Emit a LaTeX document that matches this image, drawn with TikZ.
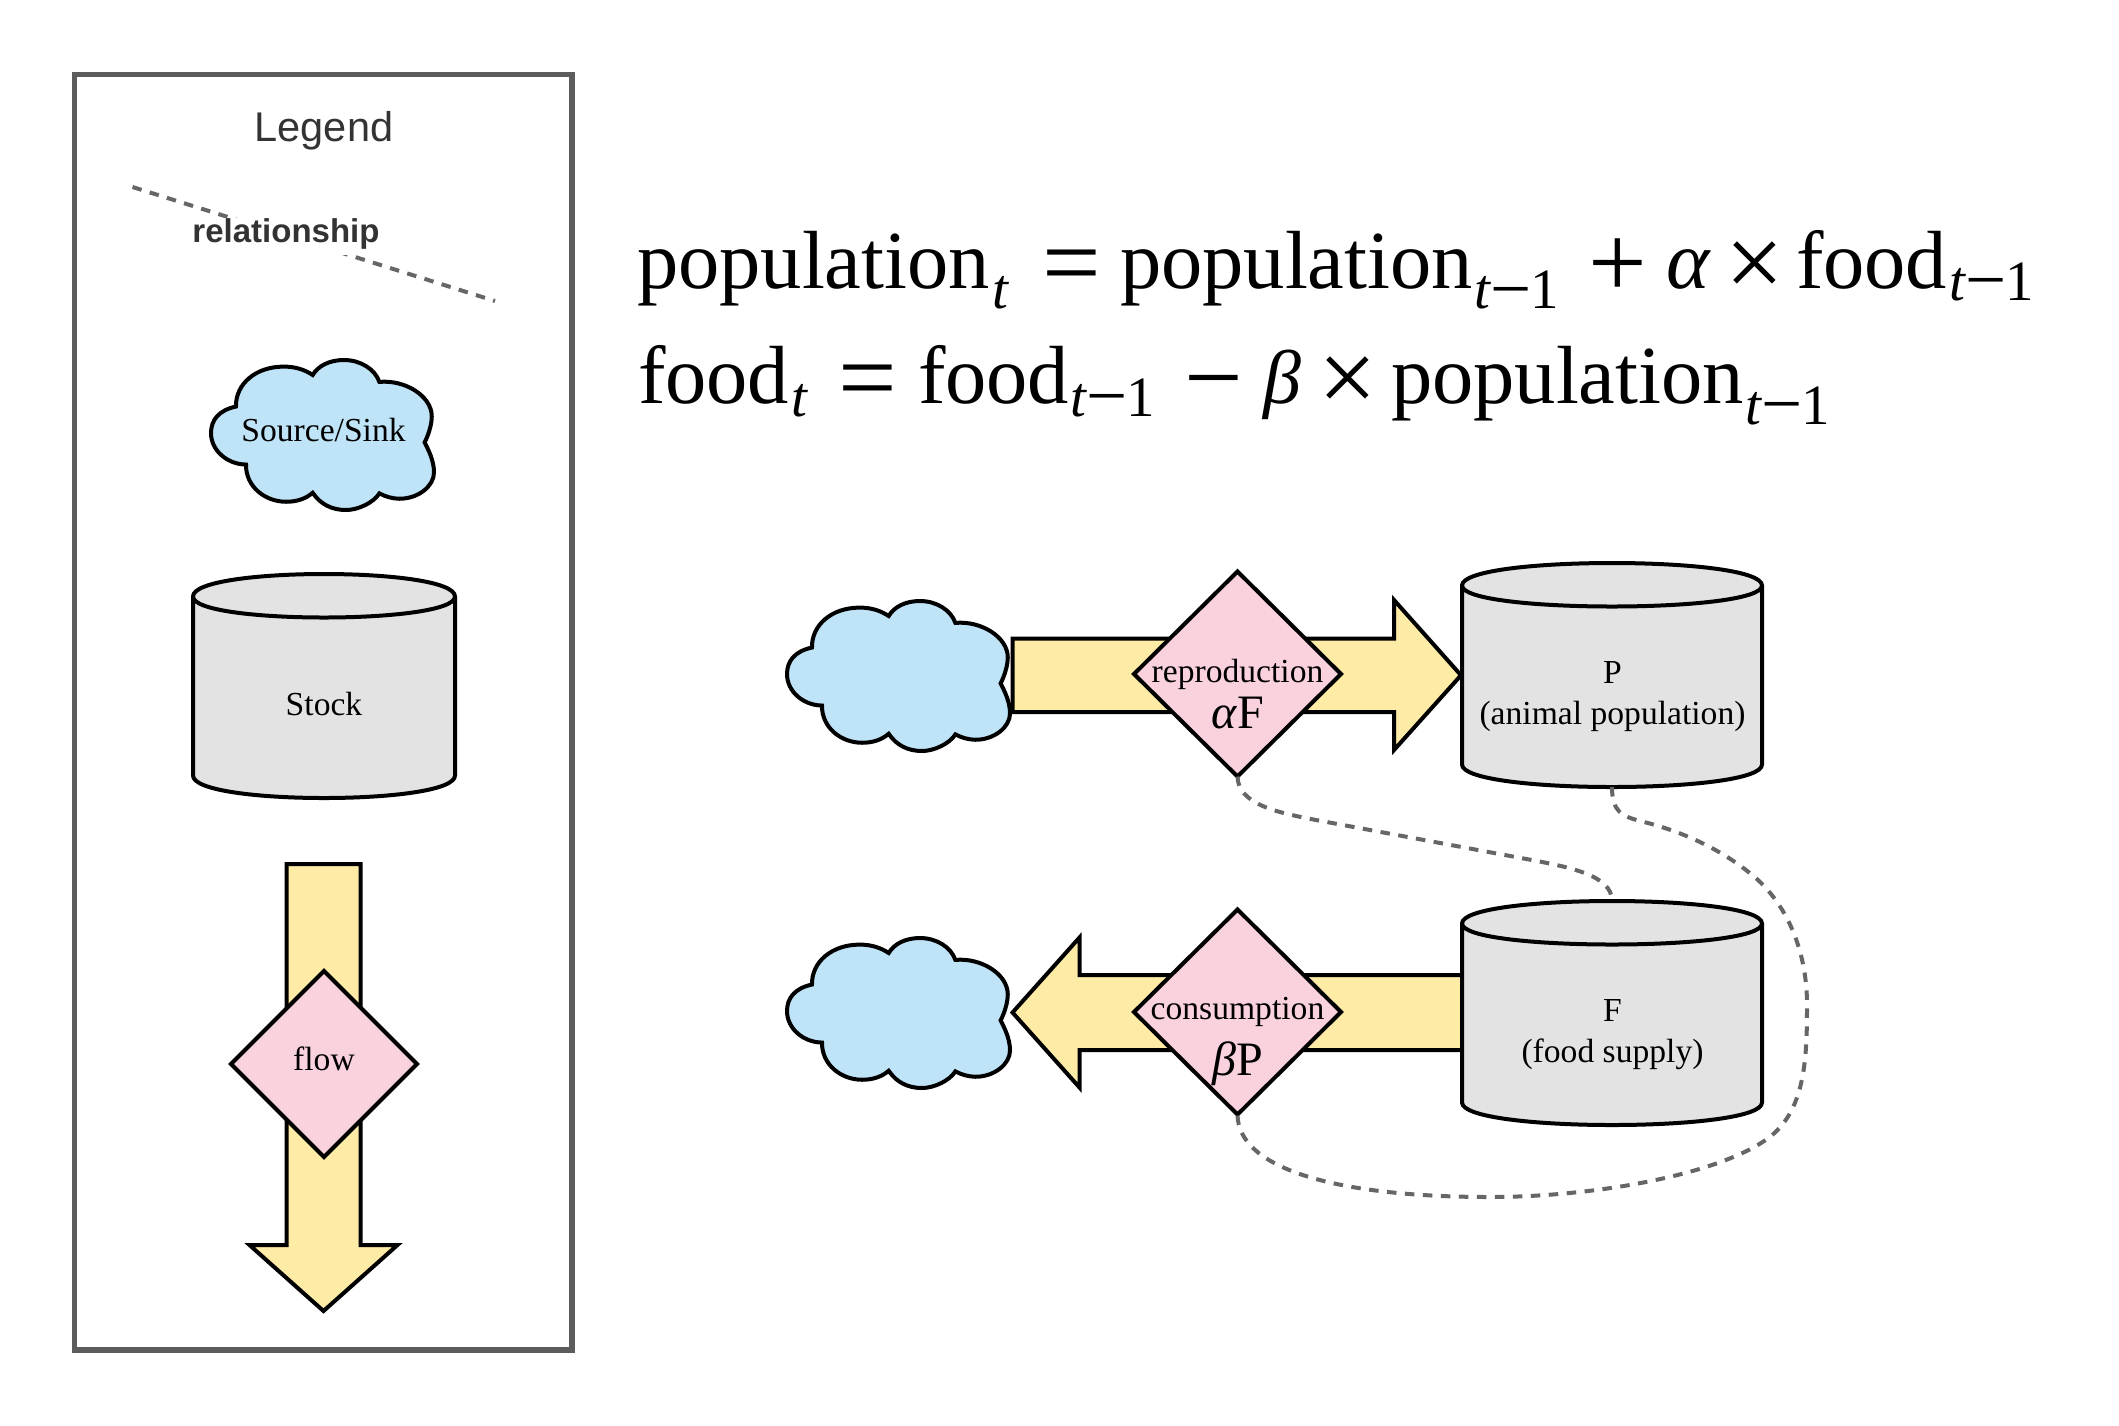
\documentclass[tikz,border=0pt]{standalone}
\usepackage{fontspec}
\usetikzlibrary{shapes.geometric}
\setmainfont{Liberation Serif}
\newfontfamily\legendsans{Liberation Sans}
\definecolor{flowfill}{HTML}{FDEBA6}
\definecolor{ratefill}{HTML}{F9D2DE}
\definecolor{cloudfill}{HTML}{BFE3F7}
\definecolor{stockfill}{HTML}{E3E3E3}
\definecolor{framegray}{HTML}{5C5C5C}
\definecolor{linkgray}{HTML}{666666}
\definecolor{legendtext}{HTML}{333333}
\newcommand\fsz[1]{\fontsize{#1}{#1}\selectfont}
\newcommand\eqat[2]{\rlap{\kern#1pt #2}}
\newcommand\eqsym[1]{\raisebox{-9pt}{\fsz{104}#1}}
\newcommand\subtm[1]{\raisebox{-#1pt}{\fsz{57}\textit{t}\raisebox{-4.4pt}{\fsz{73}−}\kern-1.5pt 1}}
\newcommand\subt[1]{\raisebox{-#1pt}{\fsz{57}\textit{t}}}
\tikzset{
  shapeline/.style={draw=black,line width=4pt,miter limit=10},
  flowarrow/.style={shapeline,fill=flowfill},
  ratediamond/.style={shapeline,fill=ratefill,shape=diamond,aspect=1,inner sep=0pt,outer sep=0pt},
  stockbody/.style={shapeline,fill=stockfill},
  cloudbody/.style={shapeline,fill=cloudfill,line join=miter},
  hookbox/.style={shape=rectangle,inner sep=0pt,outer sep=0pt},
  link/.style={draw=linkgray,line width=4pt,dash pattern=on 9.5pt off 8.5pt},
  txt/.style={inner sep=0pt,outer sep=0pt,anchor=base,font=\fsz{33.6}},
  bigtxt/.style={inner sep=0pt,outer sep=0pt,anchor=base,font=\fsz{48}},
  eqline/.style={inner sep=0pt,outer sep=0pt,anchor=base west,font=\fsz{82.5}},
  twoline/.style={inner sep=0pt,outer sep=0pt,align=center,font=\fontsize{33.6}{41}\selectfont}
}
\newcommand\stockcyl[5]{%
  \draw[stockbody] (#2,{#3+22.5})
    .. controls (#2,{#3-7.5}) and ({#2+#4},{#3-7.5}) .. ({#2+#4},{#3+22.5})
    -- ({#2+#4},{#3+#5-22.5})
    .. controls ({#2+#4},{#3+#5+7.5}) and (#2,{#3+#5+7.5}) .. (#2,{#3+#5-22.5})
    -- cycle;
  \draw[shapeline] (#2,{#3+22.5})
    .. controls (#2,{#3+50.5}) and ({#2+#4},{#3+50.5}) .. ({#2+#4},{#3+22.5});
  \node[hookbox,minimum width=#4pt,minimum height=#5pt] (#1) at ({#2+#4/2},{#3+#5/2}) {};
}
\newcommand\sourcecloud[3]{%
  \begin{scope}[shift={(#2,#3)},xscale=2.23,yscale=1.5]
  \draw[cloudbody] (11.2,31)
    .. controls (3.5,33.5) and (0,40) .. (0,48.7)
    .. controls (0,60) and (7,69.5) .. (15.7,69.7)
    .. controls (15.5,84) and (24,94.5) .. (33.7,94.5)
    .. controls (38.5,94.5) and (42.5,92.5) .. (45.6,88.5)
    .. controls (49,96) and (54,100) .. (60.6,100)
    .. controls (66,100) and (73,95) .. (75.5,88.9)
    .. controls (78,91) and (81.5,92.5) .. (84.5,92.5)
    .. controls (93,92.5) and (100,84) .. (100,75)
    .. controls (100,67) and (97.5,60) .. (95.8,54.9)
    .. controls (97.5,50) and (99,43) .. (99,37.6)
    .. controls (99,24) and (87,13) .. (75.5,14.6)
    .. controls (73.5,6) and (67,0) .. (59.6,0)
    .. controls (53,0) and (48,4) .. (45.6,10)
    .. controls (42,6.5) and (38,4.4) .. (32.6,4.4)
    .. controls (20,4.4) and (11,16) .. (11.2,31) -- cycle;
  \node[hookbox,minimum width=223pt,minimum height=150pt] (#1) at (50,50) {};
  \end{scope}
}
\begin{document}
\begin{tikzpicture}[x=1pt,y=-1pt]
\useasboundingbox[fill=white] (0,0) rectangle (2119,1425);

% legend
\node[hookbox,draw=framegray,line width=5.5pt,minimum width=497.5pt,minimum height=1275.5pt] (legendframe) at (323.25,712.25) {};
\node[inner sep=0pt,anchor=base,text=legendtext,font=\legendsans\fsz{41.5}] (legendtitle) at (324,141) {Legend};
\coordinate (relstart) at (132.5,187);
\coordinate (relend) at (495,301);
\draw[link] (relstart) -- (relend);
\node[inner sep=0pt,anchor=base,fill=white,text=legendtext,text height=24pt,text depth=12.5pt,font=\legendsans\bfseries\fsz{33}] (rellabel) at (286,242) {relationship};
\sourcecloud{legendcloud}{211}{360}
\node[txt] (legendcloudtext) at (323.5,441) {Source/Sink};
\stockcyl{legendstock}{193}{574}{262}{224}
\node[txt] (legendstocktext) at (324,715) {Stock};
\draw[flowarrow] (286.5,864) -- (360.5,864) -- (360.5,1245) -- (397.5,1245) -- (323.5,1311) -- (249.5,1245) -- (286.5,1245) -- cycle;
\node[ratediamond,minimum width=186pt,minimum height=186pt] (legendrate) at (324,1064) {};
\node[txt] (legendratetext) at (324,1070) {flow};

% equations
\node[eqline] (eqone) at (637,288) {%
  \eqat{0}{population}\eqat{355}{\subt{20.6}}\eqat{405}{\eqsym{=}}\eqat{483}{population}%
  \eqat{837}{\subtm{20.6}}\eqat{951}{\eqsym{+}}\eqat{1029}{\textit{α}}\eqat{1088}{\eqsym{×}}%
  \eqat{1159}{food}\eqat{1312}{\subtm{12.3}}\kern1393pt};
\node[eqline] (eqtwo) at (637,403.7) {%
  \eqat{1}{food}\eqat{154}{\subt{12.3}}\eqat{201}{\eqsym{=}}\eqat{281}{food}%
  \eqat{433}{\subtm{12.3}}\eqat{547}{\eqsym{−}}\eqat{626}{\fsz{76}\textit{β}}\eqat{681}{\eqsym{×}}%
  \eqat{754}{population}\eqat{1108}{\subtm{20.6}}\kern1190pt};

% flows
\draw[flowarrow] (1012.5,638.5) -- (1394,638.5) -- (1394,600) -- (1461,675.25) -- (1394,750) -- (1394,712) -- (1012.5,712) -- cycle;
\draw[flowarrow] (1462,975) -- (1079.5,975) -- (1079.5,937.5) -- (1012.5,1012.5) -- (1079.5,1087.5) -- (1079.5,1050) -- (1462,1050) -- cycle;

% clouds
\sourcecloud{sourcecloud}{787}{601}
\sourcecloud{sinkcloud}{787}{938}

% stocks
\stockcyl{P}{1462}{563}{300}{224}
\stockcyl{F}{1462}{901}{300}{224}
\node[twoline] (Ptext) at (1612.5,697) {P\\(animal population)};
\node[twoline] (Ftext) at (1612.5,1035) {F\\(food supply)};

% rates
\node[ratediamond,minimum width=207pt,minimum height=205pt] (reprate) at (1237.5,674) {};
\node[ratediamond,minimum width=207pt,minimum height=205pt] (conrate) at (1237.5,1012) {};
\node[txt] (reptext) at (1237.5,682) {reproduction};
\node[bigtxt] (repsym) at (1237.5,728) {\textit{α}F};
\node[txt] (context) at (1237.5,1019.3) {consumption};
\node[bigtxt] (consym) at (1237.5,1075) {\textit{β}P};

% links
\draw[link] (reprate.south) .. controls (1238,805) and (1280,813) .. (1316,820)
  -- (1521,858) .. controls (1570,867) and (1612,875) .. (F.north);
\draw[link] (P.south) .. controls (1612,812) and (1622,816) .. (1640,821)
  .. controls (1690,833) and (1730,855) .. (1758,880)
  .. controls (1790,910) and (1807,955) .. (1807,1005)
  .. controls (1807,1060) and (1805,1112) .. (1767,1139)
  .. controls (1715,1176) and (1590,1197) .. (1490,1197)
  .. controls (1340,1197) and (1238,1170) .. (conrate.south);
\end{tikzpicture}
\end{document}
